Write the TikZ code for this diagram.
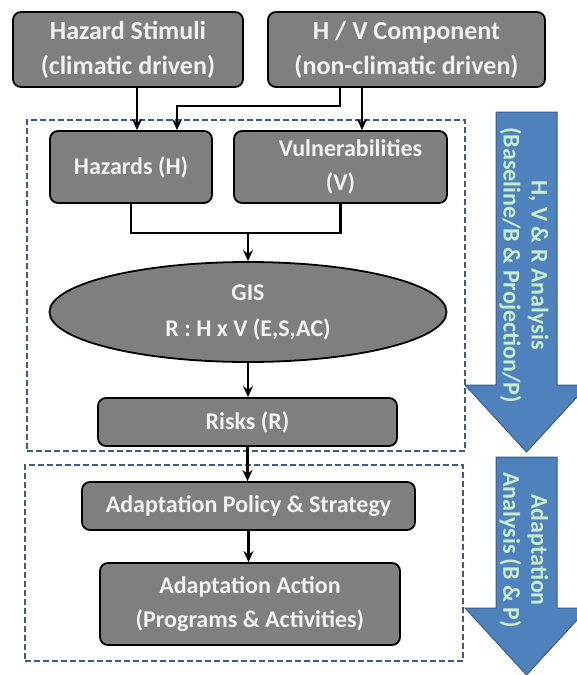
\documentclass[tikz,border=0pt]{standalone}
\usepackage{fontspec}
\setmainfont{Carlito}
\usetikzlibrary{arrows.meta,shapes.geometric}
\definecolor{boxgray}{RGB}{127,127,127}
\definecolor{boxtext}{RGB}{242,242,242}
\definecolor{bluefill}{RGB}{79,129,189}
\definecolor{blueline}{RGB}{56,93,138}
\definecolor{arrtext}{RGB}{200,238,205}
\definecolor{dashblue}{RGB}{56,93,138}
\begin{document}
\begin{tikzpicture}[x=1pt,y=-1pt,
  box/.style={draw=black, line width=1.8pt, fill=boxgray, rounded corners=8pt,
    text=boxtext, align=center, inner sep=0pt, font=\bfseries\fontsize{24}{34}\selectfont},
  topbox/.style={box, font=\bfseries\fontsize{26}{35}\selectfont},
  frame/.style={draw=dashblue, dashed, dash pattern=on 6pt off 3pt, line width=1.4pt, inner sep=0pt},
  conn/.style={draw=black, line width=2.2pt},
  arr/.style={conn, -{Stealth[length=11pt,width=10pt]}},
  bigarrow/.style={fill=bluefill, draw=blueline, line width=1pt},
  arrlabel/.style={rotate=-90, align=center, text=arrtext, font=\bfseries\fontsize{24}{28}\selectfont}
]
\useasboundingbox (0,0) rectangle (577,675);
\clip (0,0) rectangle (577,675);

% dashed frames
\node[frame, minimum width=438pt, minimum height=331pt] (f1) at (246,285.5) {};
\node[frame, minimum width=438pt, minimum height=196pt] (f2) at (244,563) {};

% blue arrows
\draw[bigarrow] (496,112) -- (557,112) -- (557,385) -- (588,385) -- (526.5,452) -- (465,385) -- (496,385) -- cycle;
\draw[bigarrow] (496,457) -- (557,457) -- (557,608) -- (588,608) -- (526.5,675) -- (465,608) -- (496,608) -- cycle;
\node[arrlabel] (t1) at (524,265) {H, V \& R Analysis\\(Baseline/B \& Projection/P)};
\node[arrlabel] (t2) at (524,550) {Adaptation\\Analysis (B \& P)};

% boxes
\node[topbox, minimum width=230pt, minimum height=75pt] (hs) at (128,49.5) {Hazard Stimuli\\(climatic driven)};
\node[topbox, minimum width=277pt, minimum height=75pt] (hv) at (406.5,49.5) {H / V Component\\(non-climatic driven)};
\node[box, minimum width=162pt, minimum height=72pt] (haz) at (131,167) {Hazards (H)};
\node[box, minimum width=213pt, minimum height=72pt] (vul) at (340.5,167) {\hspace*{20pt}Vulnerabilities\\(V)};
\node[box, ellipse, minimum width=397pt, minimum height=100pt, font=\bfseries\fontsize{24}{36}\selectfont] (gis) at (248,312) {GIS\\R : H x V (E,S,AC)};
\node[box, minimum width=299pt, minimum height=48pt] (risk) at (247.5,422) {Risks (R)};
\node[box, minimum width=333pt, minimum height=48pt] (pol) at (248.5,506) {Adaptation Policy \& Strategy};
\node[box, minimum width=300pt, minimum height=82pt] (act) at (250,604) {Adaptation Action\\(Programs \& Activities)};

% connectors
\draw[arr] ([xshift=9pt]hs.south) -- ([xshift=9pt]hs.south |- haz.north);
\draw[arr] ([xshift=-66.5pt]hv.south) -- ++(0,18) -| ([xshift=46pt]haz.north);
\draw[arr] ([xshift=-44.5pt]hv.south) -- ([xshift=-44.5pt]hv.south |- vul.north);
\coordinate (j) at (248,233);
\draw[conn] (haz.south) |- (j) -| (vul.south);
\draw[arr] (j) -- (gis.north);
\draw[arr] (gis.south) -- (gis.south |- risk.north);
\draw[arr] (risk.south) -- (risk.south |- pol.north);
\draw[arr] (pol.south) -- (pol.south |- act.north);
\end{tikzpicture}
\end{document}
